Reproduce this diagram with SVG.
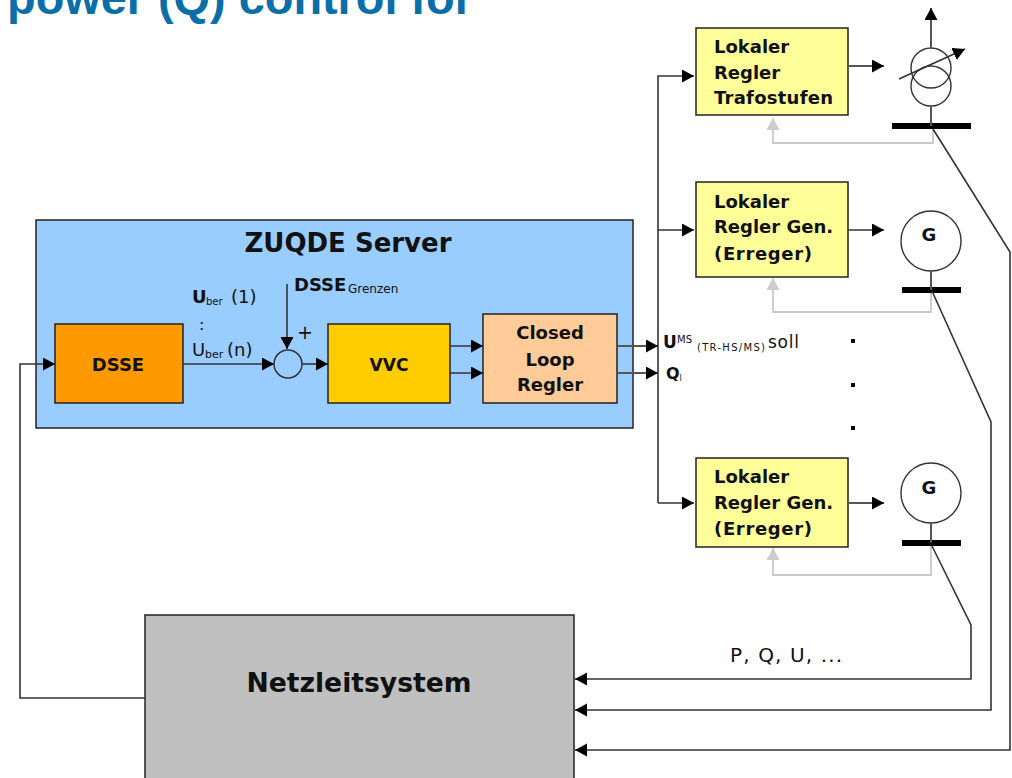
<svg xmlns="http://www.w3.org/2000/svg" width="1012" height="778" viewBox="0 0 1012 778">
<style>
text{font-family:"DejaVu Sans",sans-serif;fill:#111}
.b{font-weight:bold}
.h{font-size:18px;font-weight:bold}
.m{text-anchor:middle}
.box{stroke:#222;stroke-width:1.5}
.c{fill:none;stroke:#333;stroke-width:1.6}
.t{fill:none;stroke:#555;stroke-width:2}
.g{fill:none;stroke:#c8c8c8;stroke-width:1.8}
.n{fill:none;stroke:#333;stroke-width:1.4}
.bar{fill:#000}
</style>
<defs>
<marker id="a" markerUnits="userSpaceOnUse" markerWidth="13" markerHeight="14" refX="12" refY="6.5" orient="auto"><path d="M0 0L12 6.5L0 13Z" fill="#000"/></marker>
<marker id="ag" markerUnits="userSpaceOnUse" markerWidth="13" markerHeight="14" refX="12" refY="6.5" orient="auto"><path d="M0 0L12 6.5L0 13Z" fill="#ccc"/></marker>
</defs>
<text x="7" y="14" textLength="466" lengthAdjust="spacingAndGlyphs" style="font-family:'Liberation Sans',sans-serif;font-size:47px;font-weight:bold;fill:#0a6fa8">power (Q) control for</text>
<g id="server"><rect x="36" y="220" width="597" height="208" fill="#99ccff" class="box"/><text x="348" y="252" class="b m" style="font-size:26px" textLength="207" lengthAdjust="spacingAndGlyphs">ZUQDE Server</text></g>
<g id="dsse"><rect x="55" y="324" width="128" height="79" fill="#ff9900" class="box"/><text x="118" y="371" class="h m">DSSE</text></g>
<g id="vvc"><rect x="328" y="324" width="122" height="79" fill="#ffcc00" class="box"/><text x="389" y="371" class="h m" textLength="39" lengthAdjust="spacingAndGlyphs">VVC</text></g>
<g id="closed"><rect x="483" y="314" width="134" height="89" fill="#ffcc99" class="box"/><text x="550" y="339" class="h m">Closed</text><text x="550" y="366" class="h m">Loop</text><text x="550" y="391" class="h m">Regler</text></g>
<g id="netz"><rect x="145" y="615" width="429" height="170" fill="#c0c0c0" class="box"/><text x="359" y="692" class="b m" style="font-size:26px" textLength="225" lengthAdjust="spacingAndGlyphs">Netzleitsystem</text></g>
<g id="r1"><rect x="696" y="28" width="152" height="87" fill="#ffff99" class="box"/><text x="714" y="53" class="h">Lokaler</text><text x="714" y="79" class="h">Regler</text><text x="714" y="104" class="h" textLength="119">Trafostufen</text></g>
<g id="r2"><rect x="696" y="182" width="152" height="95" fill="#ffff99" class="box"/><text x="714" y="208" class="h">Lokaler</text><text x="714" y="233" class="h">Regler Gen.</text><text x="714" y="260" class="h" textLength="98">(Erreger)</text></g>
<g id="r3"><rect x="696" y="458" width="152" height="89" fill="#ffff99" class="box"/><text x="714" y="483" class="h">Lokaler</text><text x="714" y="509" class="h">Regler Gen.</text><text x="714" y="535" class="h" textLength="98">(Erreger)</text></g>
<g id="sum"><circle cx="288" cy="364" r="14" fill="none" stroke="#333" stroke-width="1.5"/></g>
<g id="trafo"><circle cx="931" cy="68" r="20" class="n"/><circle cx="931" cy="86" r="20" class="n"/><rect x="892" y="123" width="79" height="6" class="bar"/></g>
<g id="g1"><circle cx="931" cy="241" r="30" class="n"/><text x="929" y="241" class="h m">G</text><rect x="902" y="287" width="59" height="6" class="bar"/></g>
<g id="g2"><circle cx="931" cy="493" r="30" class="n"/><text x="929" y="494" class="h m">G</text><rect x="902" y="540" width="59" height="6" class="bar"/></g>
<g id="connectors">
<path class="c" d="M145 698H20V364H55" marker-end="url(#a)"/>
<path class="c" d="M183 364H274" marker-end="url(#a)"/>
<path class="c" d="M302 364H328" marker-end="url(#a)"/>
<path class="c" d="M287 284V349" marker-end="url(#a)"/>
<path class="c" d="M450 346H483" marker-end="url(#a)"/>
<path class="c" d="M450 373H483" marker-end="url(#a)"/>
<path class="t" d="M617 346H658" marker-end="url(#a)"/>
<path class="t" d="M617 373H658" marker-end="url(#a)"/>
<path class="c" d="M658 503V76H694" marker-end="url(#a)"/>
<path class="c" d="M658 230H694" marker-end="url(#a)"/>
<path class="c" d="M658 503H694" marker-end="url(#a)"/>
<path class="t" d="M848 66H884" marker-end="url(#a)"/>
<path class="c" d="M848 230H884" marker-end="url(#a)"/>
<path class="t" d="M848 503H884" marker-end="url(#a)"/>
<path class="t" d="M931 48V8" marker-end="url(#a)"/>
<path class="c" d="M899 79L965 49" marker-end="url(#a)"/>
<path class="t" d="M931 106V126M931 271V290M931 523V543"/>
<path class="g" d="M933 129V143H773V118" marker-end="url(#ag)"/>
<path class="g" d="M931 293V312H773V278" marker-end="url(#ag)"/>
<path class="g" d="M931 546V575H773V548" marker-end="url(#ag)"/>
<path class="c" d="M933 129L1010 252V750H575" marker-end="url(#a)"/>
<path class="c" d="M932 291L991 422V710H575" marker-end="url(#a)"/>
<path class="c" d="M932 546L971 625V679H575" marker-end="url(#a)"/>
</g>
<g id="labels">
<text x="192" y="303" style="font-size:18px"><tspan class="b">U</tspan><tspan font-size="10" x="206" dy="2">ber</tspan><tspan x="231" dy="-2">(1)</tspan></text>
<text x="199" y="330" style="font-size:16px">:</text>
<text x="192" y="356" style="font-size:18px">U<tspan font-size="11" x="205" dy="2">ber</tspan><tspan x="227" dy="-2">(n)</tspan></text>
<text x="294" y="291" style="font-size:18px" class="b">DSSE<tspan font-size="12" font-weight="normal" x="348" dy="2">Grenzen</tspan></text>
<text x="297" y="339" style="font-size:19px">+</text>
<text x="663" y="348" style="font-size:17px"><tspan class="b">U</tspan><tspan font-size="10" x="677" dy="-5">MS</tspan><tspan font-size="10" x="697" dy="8" textLength="68">(TR-HS/MS)</tspan><tspan x="768" dy="-3" textLength="31">soll</tspan></text>
<text x="666" y="379" style="font-size:16px" class="b">Q<tspan font-size="8" font-weight="normal" dy="2">l</tspan></text>
<text x="730" y="662" style="font-size:20px" textLength="112">P, Q, U, ...</text>
<rect x="851" y="339" width="4" height="4" fill="#000"/><rect x="851" y="383" width="4" height="4" fill="#000"/><rect x="851" y="426" width="4" height="4" fill="#000"/>
</g>
</svg>
